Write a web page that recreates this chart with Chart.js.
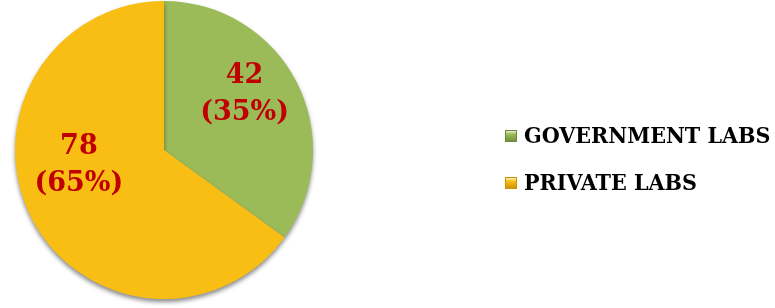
<!DOCTYPE html>
<html>
<head>
<meta charset="utf-8">
<script src="https://cdn.jsdelivr.net/npm/chart.js@4/dist/chart.umd.min.js"></script>
<style>
    html, body { margin: 0; padding: 0; background: #ffffff; }
    #wrap { width: 775px; height: 308px; position: relative; }
</style>
</head>
<body>
<div id="wrap"><canvas id="pieChart" width="775" height="308"></canvas></div>
<script>
// Chart data
const categories = ['GOVERNMENT LABS', 'PRIVATE LABS'];
const labCounts = [42, 78];
const labPercents = ['35%', '65%'];
const sliceColors = ['#9BBB59', '#F9BE13'];
const boxEdgeColors = ['#6F8A3A', '#C8900A'];

// label placement tweaks (relative to each slice's mid angle)
const labelAngleShift = [-8, 17];
const labelRadius = [0.66, 0.58];

// soft shadow under the pie
const pieShadow = {
    id: 'pieShadow',
    beforeDatasetDraw(chart) {
        const ctx = chart.ctx;
        ctx.save();
        ctx.shadowColor = 'rgba(0, 0, 0, 0.45)';
        ctx.shadowBlur = 4;
        ctx.shadowOffsetY = 3;
    },
    afterDatasetDraw(chart) {
        chart.ctx.restore();
    }
};

// count + percentage labels inside the slices
const sliceLabels = {
    id: 'sliceLabels',
    afterDatasetsDraw(chart) {
        const ctx = chart.ctx;
        const meta = chart.getDatasetMeta(0);
        ctx.save();
        ctx.fillStyle = '#C00000';
        ctx.font = 'bold 27px "DejaVu Serif"';
        ctx.textAlign = 'center';
        ctx.textBaseline = 'middle';
        meta.data.forEach((arc, i) => {
            const p = arc.getProps(['x', 'y', 'startAngle', 'endAngle', 'outerRadius'], true);
            const mid = (p.startAngle + p.endAngle) / 2 + labelAngleShift[i] * Math.PI / 180;
            const r = p.outerRadius * labelRadius[i];
            const cx = p.x + Math.cos(mid) * r;
            const cy = p.y + Math.sin(mid) * r;
            ctx.fillText(String(labCounts[i]), cx, cy - 18);
            ctx.fillText('(' + labPercents[i] + ')', cx, cy + 19);
        });
        ctx.restore();
    }
};

// legend on the right, drawn by hand
const sideLegend = {
    id: 'sideLegend',
    afterDraw(chart) {
        const ctx = chart.ctx;
        ctx.save();
        ctx.font = 'bold 23px "DejaVu Serif Condensed", "DejaVu Serif"';
        ctx.textBaseline = 'middle';
        ctx.textAlign = 'left';
        categories.forEach((name, i) => {
            const y = 136 + i * 47;
            const g = ctx.createLinearGradient(505, y - 6, 505, y + 6);
            g.addColorStop(0, '#ffffff');
            g.addColorStop(0.35, sliceColors[i]);
            g.addColorStop(1, boxEdgeColors[i]);
            ctx.fillStyle = g;
            ctx.fillRect(505, y - 6, 12, 12);
            ctx.strokeStyle = boxEdgeColors[i];
            ctx.lineWidth = 1;
            ctx.strokeRect(505.5, y - 5.5, 11, 11);
            ctx.fillStyle = '#000000';
            ctx.fillText(name, 524, y + 1);
        });
        ctx.restore();
    }
};

const ctx = document.getElementById('pieChart').getContext('2d');
new Chart(ctx, {
    type: 'pie',
    data: {
        labels: categories,
        datasets: [{
            data: labCounts,
            backgroundColor: sliceColors,
            borderWidth: 0
        }]
    },
    options: {
        responsive: false,
        animation: false,
        layout: {
            padding: { left: 15, right: 462, top: 1, bottom: 9 }
        },
        plugins: {
            legend: { display: false },
            tooltip: { enabled: false }
        }
    },
    plugins: [pieShadow, sliceLabels, sideLegend]
});
</script>
</body>
</html>
